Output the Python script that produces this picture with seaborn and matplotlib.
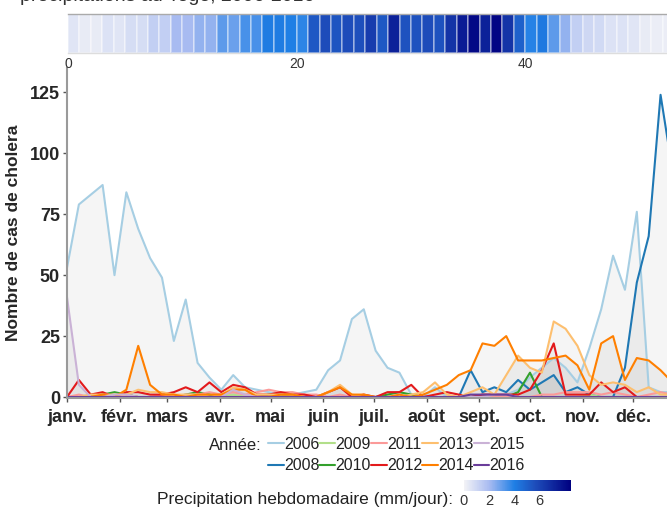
import numpy as np
import pandas as pd
import matplotlib
matplotlib.use("Agg")
import matplotlib.pyplot as plt
import seaborn as sns
from matplotlib.colors import LinearSegmentedColormap, Normalize
from matplotlib.lines import Line2D
import matplotlib.cm as cm

# ---------------- data ----------------
years = [2006, 2008, 2009, 2010, 2011, 2012, 2013, 2014, 2015, 2016]

cases_2006 = [53, 79, 83, 87, 50, 84, 69, 57, 49, 23, 40, 14, 8, 3, 9, 4, 3, 2, 1, 1,
              2, 3, 11, 15, 32, 36, 19, 12, 10, 1, 0, 4, 0, 0, 0, 1, 0, 1, 3, 8,
              12, 16, 12, 6, 20, 36, 58, 44, 76, 4, 2, 2]
cases_2008 = [0, 0, 0, 0, 0, 0, 0, 0, 0, 0, 0, 0, 0, 0, 0, 0, 0, 0, 0, 0,
              0, 0, 0, 0, 0, 0, 0, 0, 0, 0, 0, 0, 0, 0, 11, 2, 4, 2, 7, 3,
              6, 9, 2, 4, 1, 0, 0, 12, 47, 66, 124, 93]
cases_2009 = [0, 0, 1, 1, 0, 1, 0, 0, 0, 0, 0, 0, 1, 0, 1, 0, 0, 0, 0, 0,
              0, 0, 0, 0, 0, 0, 0, 0, 0, 1, 0, 0, 0, 0, 0, 0, 0, 0, 0, 0,
              0, 0, 0, 0, 1, 0, 0, 0, 0, 0, 0, 0]
cases_2010 = [0, 0, 0, 1, 2, 1, 0, 0, 0, 0, 1, 2, 1, 0, 0, 0, 0, 1, 1, 0,
              0, 0, 0, 0, 0, 0, 0, 1, 2, 1, 0, 0, 0, 0, 0, 0, 0, 0, 2, 10,
              0, 0, 0, 0, 0, 0, 0, 0, 0, 0, 0, 0]
cases_2011 = [0, 1, 0, 0, 0, 1, 0, 0, 1, 0, 1, 1, 2, 1, 2, 1, 2, 3, 2, 2,
              1, 1, 0, 1, 0, 0, 0, 0, 0, 0, 0, 0, 0, 0, 0, 0, 0, 0, 0, 0,
              1, 1, 2, 2, 2, 1, 2, 1, 0, 1, 2, 1]
cases_2012 = [0, 7, 1, 2, 0, 2, 2, 1, 1, 2, 4, 2, 6, 2, 5, 4, 1, 1, 2, 1,
              1, 0, 2, 4, 0, 1, 0, 2, 2, 5, 0, 1, 2, 1, 0, 1, 1, 1, 1, 3,
              11, 22, 1, 1, 1, 6, 2, 4, 0, 0, 0, 0]
cases_2013 = [0, 0, 1, 1, 1, 1, 3, 2, 2, 1, 1, 1, 0, 1, 4, 3, 1, 1, 1, 1,
              0, 0, 2, 5, 1, 0, 0, 0, 0, 1, 2, 6, 1, 0, 2, 4, 1, 9, 17, 12,
              10, 31, 28, 21, 9, 5, 6, 5, 2, 4, 1, 1]
cases_2014 = [0, 0, 0, 1, 0, 3, 21, 5, 1, 1, 0, 1, 1, 1, 3, 3, 0, 0, 1, 1,
              0, 0, 2, 4, 1, 1, 0, 0, 1, 0, 1, 3, 5, 9, 11, 22, 21, 25, 15, 15,
              15, 16, 17, 13, 3, 22, 25, 7, 16, 15, 11, 6]
cases_2015 = [41, 5, 0, 0, 1, 1, 0, 0, 0, 0, 0, 0, 0, 0, 3, 1, 0, 0, 0, 0,
              0, 0, 0, 0, 0, 0, 0, 0, 0, 0, 0, 0, 0, 0, 0, 0, 1, 1, 0, 0,
              0, 0, 0, 0, 0, 0, 0, 0, 0, 0, 0, 0]
cases_2016 = [0, 0, 0, 0, 0, 0, 0, 0, 0, 0, 0, 0, 0, 0, 0, 0, 0, 0, 0, 0,
              0, 0, 0, 0, 0, 0, 0, 0, 0, 0, 0, 0, 0, 0, 1, 1, 1, 1, 0, 0,
              0, 0, 0, 0, 0, 0, 0, 0, 0, 0, 0, 0]

week_day = [7 * k for k in range(52)]

months = ["janv.", "févr.", "mars", "avr.", "mai", "juin", "juil.",
          "août", "sept.", "oct.", "nov.", "déc."]
month_start = [0, 31, 59, 90, 120, 151, 181, 212, 243, 273, 304, 334]
y_ticks = [0, 25, 50, 75, 100, 125]

# weekly precipitation (mm/jour), weeks 0..52
precip = [0.5, 0.3, 0.3, 0.6, 0.5, 0.8, 0.8, 1.3, 1.3, 2.0,
          2.0, 2.3, 2.3, 3.1, 2.9, 3.4, 3.4, 4.1, 4.1, 4.0,
          3.8, 5.3, 5.7, 5.4, 5.7, 5.6, 6.3, 5.3, 7.3, 5.5,
          5.5, 5.7, 5.5, 6.6, 7.5, 8.2, 7.3, 8.3, 6.6, 5.0,
          3.9, 4.2, 3.1, 2.3, 1.3, 1.0, 0.9, 0.6, 0.6, 0.5,
          0.3, 0.2, 0.2]
precip_ticks = [0, 20, 40]
cbar_ticks = [0, 2, 4, 6]

series = [cases_2006, cases_2008, cases_2009, cases_2010, cases_2011,
          cases_2012, cases_2013, cases_2014, cases_2015, cases_2016]

df = pd.DataFrame({
    "day": np.tile(week_day, len(years)),
    "cas": np.concatenate(series),
    "annee": np.repeat(years, len(week_day)),
})

# ---------------- style ----------------
sns.set_theme(style="white")
plt.rcParams['font.family'] = ['Liberation Sans', 'DejaVu Sans']

palette = dict(zip(years, sns.color_palette("Paired", 10)))

VMAX = 8.5
cmap = LinearSegmentedColormap.from_list(
    "precip",
    [(0.0, "#f3f3f6"), (2.0 / VMAX, "#a8bbf1"), (4.0 / VMAX, "#1f7fe5"),
     (5.6 / VMAX, "#1e4fbc"), (1.0, "#000080")])
norm = Normalize(0, VMAX)

W, H = 667, 511
fig = plt.figure(figsize=(W / 100, H / 100), dpi=100)


def rect(x0, y0, x1, y1):
    return [x0 / W, 1 - y1 / H, (x1 - x0) / W, (y1 - y0) / H]


# ---------------- main line chart ----------------
ax = fig.add_axes(rect(67, 68, 686, 398))
for yr, vals in zip(years, series):
    ax.fill_between(week_day, 0, vals, color="#7a7a7a", alpha=0.075,
                    lw=0, zorder=0)
sns.lineplot(data=df, x="day", y="cas", hue="annee", hue_order=years,
             palette=palette, lw=1.5, legend=False, estimator=None,
             errorbar=None, ax=ax)
ax.set_xlim(0, 365)
ax.set_ylim(-0.4, 135)
ax.set_xticks(month_start)
ax.set_xticklabels(months, fontweight="bold", fontsize=13)
ax.set_yticks(y_ticks)
ax.set_yticklabels([str(t) for t in y_ticks], fontweight="bold", fontsize=13)
ax.tick_params(axis="both", which="both", length=3, width=1, color="#555555",
               direction="out", left=True, bottom=True)
ax.tick_params(axis="x", pad=5)
ax.tick_params(axis="y", pad=2)
ax.set_xlabel("")
ax.set_ylabel("Nombre de cas de cholera", fontweight="bold", fontsize=12.5,
              labelpad=6)
for s in ["top", "right"]:
    ax.spines[s].set_visible(False)
for s in ["left", "bottom"]:
    ax.spines[s].set_color("#9a9a9a")
    ax.spines[s].set_linewidth(1.5)

# ---------------- precipitation strip ----------------
hax = fig.add_axes(rect(68, 14, 674, 53))
strip = pd.DataFrame([precip])
sns.heatmap(strip, ax=hax, cmap=cmap, vmin=0, vmax=VMAX, cbar=False,
            linewidths=0.3, linecolor=(1, 1, 1, 0.35))
hax.set_xticks(precip_ticks)
hax.set_xticklabels([str(t) for t in precip_ticks], rotation=0,
                    fontsize=10, color="#333333")
hax.set_yticks([])
hax.tick_params(axis="x", length=0, pad=3)
hax.set_xlabel("")
hax.set_ylabel("")
for s in ["left", "right"]:
    hax.spines[s].set_visible(False)
hax.spines["top"].set_visible(True)
hax.spines["top"].set_color("#aaaaaa")
hax.spines["top"].set_linewidth(1.0)
hax.spines["bottom"].set_visible(True)
hax.spines["bottom"].set_color("#dddddd")
hax.spines["bottom"].set_linewidth(1.0)

# title, cut by the top edge as in the reference
fig.text(20 / W, 1 - 1.0 / H, "précipitations au Togo, 2006-2016",
         fontsize=14, va="baseline", ha="left", color="#333333")

# ---------------- legend ----------------
handles = [Line2D([0], [0], color=palette[y], lw=1.5) for y in years]
fig.legend(handles, [str(y) for y in years], ncol=5, loc="upper left",
           bbox_to_anchor=(268 / W, 1 - 437 / H), frameon=False,
           handlelength=1.0, handletextpad=0.0, columnspacing=0.0,
           labelspacing=0.4, fontsize=11.5, borderpad=0, borderaxespad=0,
           labelcolor="#222222")
fig.text(262 / W, 1 - 446 / H, "Année:", ha="right", va="center",
         fontsize=12, color="#222222")

# ---------------- colorbar ----------------
cax = fig.add_axes(rect(464, 480, 571, 491))
cb = fig.colorbar(cm.ScalarMappable(norm=norm, cmap=cmap), cax=cax,
                  orientation="horizontal")
cb.set_ticks(cbar_ticks)
cb.outline.set_visible(False)
cax.tick_params(length=0, labelsize=10.5, pad=2.5, labelcolor="#333333")
fig.text(453 / W, 1 - 499 / H, "Precipitation hebdomadaire (mm/jour):",
         ha="right", va="center", fontsize=12.5, color="#222222")

fig.savefig("out.png", dpi=100)
